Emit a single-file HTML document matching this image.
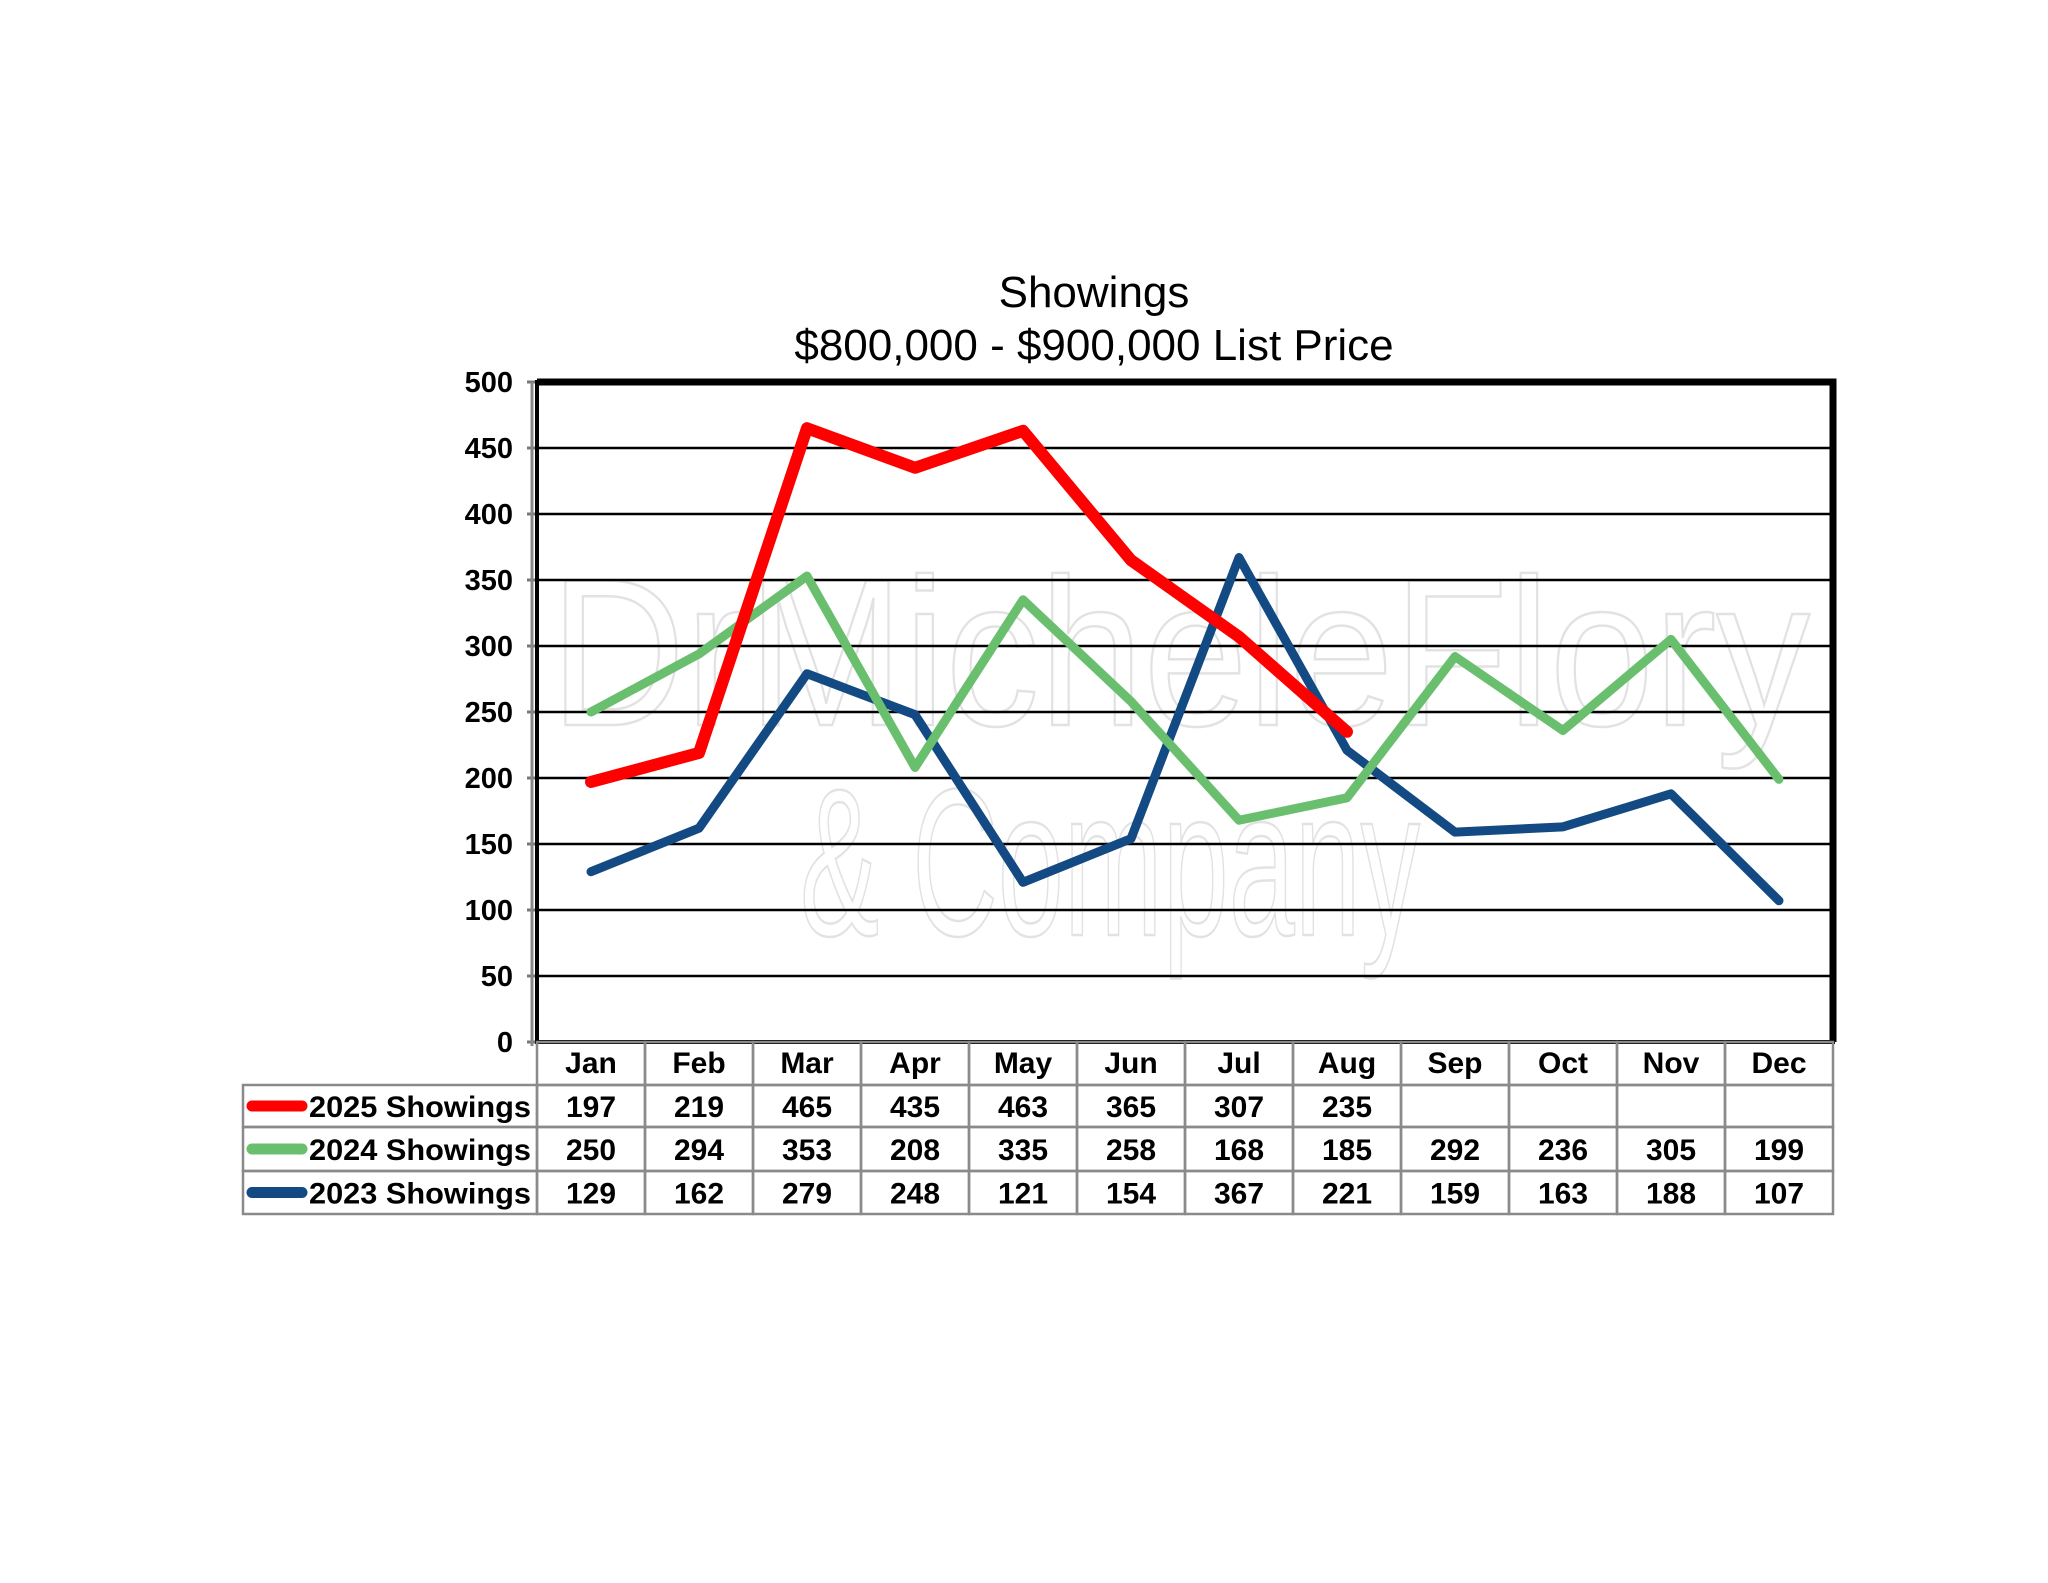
<!DOCTYPE html>
<html><head><meta charset="utf-8"><style>
html,body{margin:0;padding:0;background:#fff;}
svg{display:block;font-family:"Liberation Sans",Arial,sans-serif;}
</style></head><body>
<svg id="chart" width="2048" height="1583" viewBox="0 0 2048 1583">
<text x="1094" y="307" text-anchor="middle" font-size="44">Showings</text>
<text x="1094" y="360" text-anchor="middle" font-size="44">$800,000 - $900,000 List Price</text>
<g fill="none" stroke="#e2e2e2" stroke-width="2.5" font-size="210">
<text x="550" y="725" textLength="1260" lengthAdjust="spacingAndGlyphs">DrMicheleFlory</text>
<text x="800" y="935" textLength="620" lengthAdjust="spacingAndGlyphs">&amp; Company</text>
</g>
<g id="grid"></g>
<g id="series"></g>
<g id="table"></g>
</svg>
<script>
const months=["Jan","Feb","Mar","Apr","May","Jun","Jul","Aug","Sep","Oct","Nov","Dec"];
const s2025=[197,219,465,435,463,365,307,235,null,null,null,null];
const s2024=[250,294,353,208,335,258,168,185,292,236,305,199];
const s2023=[129,162,279,248,121,154,367,221,159,163,188,107];
const yTicks=[0,50,100,150,200,250,300,350,400,450,500];
const seriesNames=["2025 Showings","2024 Showings","2023 Showings"];
const NS="http://www.w3.org/2000/svg";
const L=537,R=1833,T=382,B=1042,colW=(R-L)/12;
const x=i=>L+colW*(i+0.5);
const y=v=>B-(v/500)*(B-T);
function mk(tag,attrs,parent){const e=document.createElementNS(NS,tag);for(const k in attrs)e.setAttribute(k,attrs[k]);parent.appendChild(e);return e;}
const grid=document.getElementById('grid');
yTicks.forEach(v=>{
  const ln=mk('line',{x1:L,x2:R,y1:y(v),y2:y(v),stroke:'#000','stroke-width':2.5},grid);
  
  
  const tk=mk('line',{x1:L-10,x2:L,y1:y(v),y2:y(v),stroke:'#777','stroke-width':3},grid);
  
  
  const t=mk('text',{x:L-24,y:y(v)+10,'text-anchor':'end','font-size':29,'font-weight':'bold'},grid);
  t.textContent=v;
  
  
});
const fr=mk('path',{d:`M${L} ${B} L${L} ${T} L${R} ${T} L${R} ${B} Z`,fill:'none',stroke:'#000','stroke-width':4},grid);


const tr=mk('path',{d:`M${L} ${T} L${R} ${T} L${R} ${B}`,fill:'none',stroke:'#000','stroke-width':7},grid);


const la=mk('line',{x1:L-5,x2:L-5,y1:T,y2:B+4,stroke:'#888','stroke-width':3},grid);


const colors=["#ff0000","#6abf6f","#134a83"];
const data=[s2025,s2024,s2023];
const sg=document.getElementById('series');
[2,1,0].forEach(k=>{
  let d='';let started=false;
  data[k].forEach((v,i)=>{if(v==null)return;d+=(started?'L':'M')+x(i)+' '+y(v)+' ';started=true;});
  const p=mk('path',{d:d,fill:'none',stroke:colors[k],'stroke-width':k==0?12:9,'stroke-linejoin':'round','stroke-linecap':'round'},sg);
  
  
});
const tb=document.getElementById('table');
const rowY=[1042,1085,1127,1171,1214];
const TL=243;
const gc='#8a8a8a';
months.forEach((m,i)=>{
  const r=mk('rect',{x:L+colW*i,y:rowY[0],width:colW,height:rowY[1]-rowY[0],fill:'none',stroke:gc,'stroke-width':2.5},tb);
  
  
  const t=mk('text',{x:x(i),y:rowY[0]+31,'text-anchor':'middle','font-size':30,'font-weight':'bold'},tb);
  t.textContent=m;
  
  
});
for(let k=0;k<3;k++){
  const y0=rowY[k+1],y1=rowY[k+2];
  const r=mk('rect',{x:TL,y:y0,width:L-TL,height:y1-y0,fill:'none',stroke:gc,'stroke-width':2.5},tb);
  
  
  const sw=mk('line',{x1:252,x2:302,y1:(y0+y1)/2,y2:(y0+y1)/2,stroke:colors[k],'stroke-width':11,'stroke-linecap':'round'},tb);
  
  
  const lt=mk('text',{x:531,y:(y0+y1)/2+11,'text-anchor':'end','font-size':30,'font-weight':'bold',textLength:222,lengthAdjust:'spacingAndGlyphs'},tb);
  lt.textContent=seriesNames[k];
  
  
  data[k].forEach((v,i)=>{
    const c=mk('rect',{x:L+colW*i,y:y0,width:colW,height:y1-y0,fill:'none',stroke:gc,'stroke-width':2.5},tb);
    
    
    if(v==null)return;
    const t=mk('text',{x:x(i),y:(y0+y1)/2+11,'text-anchor':'middle','font-size':30,'font-weight':'bold'},tb);
    t.textContent=v;
    
    
  });
}
</script>
</body></html>
